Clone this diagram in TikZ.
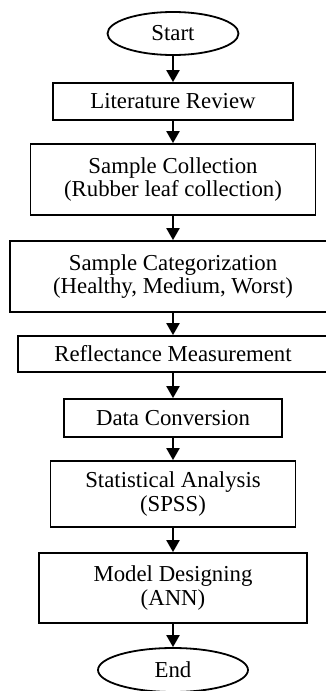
\documentclass[tikz,border=0pt]{standalone}
\usepackage{fontspec}
\setmainfont{Liberation Serif}
\usetikzlibrary{shapes.geometric,arrows.meta}

\begin{document}
\begin{tikzpicture}[x=0.5pt,y=-0.5pt,
    box/.style={draw,line width=0.9pt,align=center,inner sep=0pt,
      font=\fontsize{11.4}{11.8}\selectfont},
    term/.style={box,ellipse},
    flow/.style={line width=1.1pt,-{Triangle[length=6pt,width=6.5pt]}}]
                \clip (0,0) rectangle (326,691);

                \node[term,minimum width=65.5pt,minimum height=21.5pt] (start) at (173,33.5) {Start};
                \node[box,minimum width=120pt,minimum height=18.5pt] (lit) at (173,101.5) {Literature Review};
                \node[box,minimum width=142.5pt,minimum height=35.5pt] (coll) at (173,179.5) {Sample Collection\\(Rubber leaf collection)};
                \node[box,minimum width=163pt,minimum height=35.5pt] (cat) at (173,276.5) {Sample Categorization\\(Healthy, Medium, Worst)};
                \node[box,minimum width=155pt,minimum height=18pt] (refl) at (173,354) {Reflectance Measurement};
                \node[box,minimum width=109pt,minimum height=19pt] (conv) at (173,418) {Data Conversion};
                \node[box,minimum width=122.5pt,minimum height=33pt] (stat) at (173,494) {Statistical Analysis\\(SPSS)};
                \node[box,minimum width=134pt,minimum height=35pt] (model) at (173,588) {Model Designing\\(ANN)};
                \node[term,minimum width=75pt,minimum height=22pt] (end) at (173,670) {End};

                \draw[flow] (start) -- (lit);
                \draw[flow] (lit) -- (coll);
                \draw[flow] (coll) -- (cat);
                \draw[flow] (cat) -- (refl);
                \draw[flow] (refl) -- (conv);
                \draw[flow] (conv) -- (stat);
                \draw[flow] (stat) -- (model);
                \draw[flow] (model) -- (end);
            \end{tikzpicture}
\end{document}
